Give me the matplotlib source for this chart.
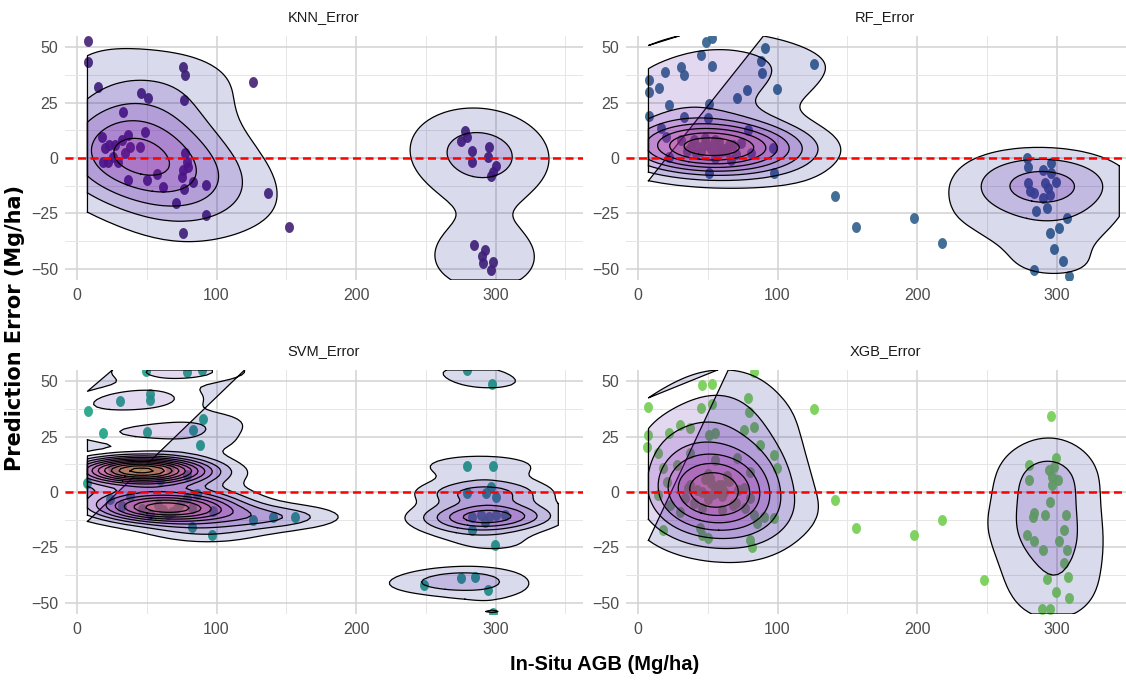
import numpy as np
import matplotlib
matplotlib.use("Agg")
import matplotlib.pyplot as plt
from matplotlib.colors import Normalize
import contourpy

# ---------------------------------------------------------------- data
models = ["KNN_Error", "RF_Error", "SVM_Error", "XGB_Error"]

knn_agb = [8.1, 8.0, 14.8, 45.6, 50.7, 32.7, 75.8, 77.4, 76.7, 126.4,
           17.7, 20.1, 23.2, 18.9, 22.4, 27.2, 32.0, 36.8, 38.0, 34.4, 45.2, 48.8, 29.6, 26.0,
           36.8, 50.0, 57.6, 61.9, 71.0, 76.7, 75.8, 77.5, 78.9, 75.1, 79.3, 82.9, 92.5, 92.5,
           75.8, 136.8, 152.3,
           278.0, 275.3, 279.3, 283.3, 283.3, 295.3, 294.8, 300.6, 297.9, 296.6,
           284.6, 292.6, 290.0, 291.3, 297.9, 296.6]
knn_err = [52.8, 43.4, 32.1, 29.4, 26.9, 20.9, 40.8, 37.4, 26.1, 34.1,
           9.6, 4.4, 5.9, -1.6, -1.6, 5.9, 8.1, 10.4, 5.1, 2.1, 5.1, 11.9, -1.6, 0.6,
           -9.9, -9.9, -7.2, -12.9, -20.4, -14.1, -5.4, 2.1, -1.6, -8.4, -3.9, -10.6, -12.1, -25.6,
           -33.6, -15.9, -30.9,
           12.3, 7.8, 9.3, 3.3, -1.9, 4.8, 0.3, -3.4, -6.4, -8.0,
           -39.2, -41.4, -44.4, -47.4, -46.7, -50.4]

rf_agb = [48.9, 53.0, 45.1, 53.0, 30.9, 32.9, 19.7, 7.7, 7.7, 14.9, 7.7, 22.5, 50.6, 71.0,
          78.2, 88.2, 90.9, 89.0, 99.6, 126.5, 140.9, 156.3,
          16.3, 19.9, 33.1, 49.9, 30.7, 37.9, 49.9, 57.1, 73.9, 78.7, 81.1, 96.7, 51.1, 97.8,
          66.7, 22.5, 41.7, 45.0, 55.0, 60.0, 65.0, 40.0, 55.0, 47.0, 62.0, 35.0, 70.0,
          43.0, 52.0, 58.0, 64.0, 48.0, 56.0, 38.0, 68.0,
          197.8, 217.9, 278.9, 279.4, 290.6, 296.3, 296.3, 279.9, 281.2, 283.8, 291.6, 294.2,
          299.4, 290.3, 295.6, 293.0, 285.2, 307.3, 301.6, 295.6, 298.2, 304.7, 283.8, 308.6]
rf_err = [52.4, 53.9, 46.4, 41.4, 40.8, 37.4, 38.9, 35.1, 29.9, 31.4, 18.9, 23.9, 24.3, 26.9,
          30.6, 43.8, 49.4, 38.1, 30.9, 42.6, -17.1, -30.9,
          13.4, 9.6, 18.6, 17.9, 8.1, 5.1, 5.9, 5.1, 6.6, 12.6, 2.1, 4.4, -6.9, -6.9,
          -0.9, 0.6, 2.1, 3.0, 8.0, 3.0, 6.0, 8.0, 0.0, 6.0, 4.0, 3.0, 2.0,
          5.0, 4.0, 7.0, 3.0, 9.0, 2.0, 5.0, 6.0,
          -27.2, -38.4, 0.1, -3.9, -5.4, -2.4, -6.9, -11.3, -15.0, -15.8, -11.3, -13.6,
          -10.6, -18.0, -16.5, -22.5, -24.0, -26.9, -31.4, -33.6, -41.1, -46.3, -50.7, -53.4]

svm_agb = [8.1, 30.8, 52.3, 52.3, 90.1, 49.7, 78.9, 89.5, 18.9, 50.4, 83.4, 88.2, 6.9,
           23.6, 32.0, 38.0, 46.4, 52.3, 59.5, 73.8, 78.6, 82.2, 82.2, 85.8, 97.8, 96.6,
           126.4, 140.8, 156.4, 42.8, 54.7, 66.7, 78.6,
           35.0, 40.0, 45.0, 48.0, 38.0, 52.0, 30.0, 44.0, 58.0, 25.0,
           62.0, 68.0, 72.0, 58.0, 65.0,
           279.3, 297.4, 279.8, 297.9, 296.6, 293.1, 300.6, 279.3, 283.3, 289.9, 295.3, 300.6,
           306.5, 292.1, 283.3, 299.3, 248.4, 275.1, 285.0, 294.6, 297.9]
svm_err = [36.5, 41.0, 44.4, 41.4, 32.9, 54.5, 54.2, 54.8, 26.4, 27.2, 27.9, 21.2, 3.9,
           -3.3, -6.3, -1.8, -7.8, -10.1, 5.6, -5.5, -2.5, -7.0, -16.0, -1.0, -8.5, -19.3,
           -12.6, -11.1, -11.1, 10.7, 9.9, 10.7, 7.7,
           10.0, 9.0, 11.0, 9.0, 12.0, 11.0, 9.0, 8.0, 10.0, 11.0,
           -8.0, -9.0, -7.0, -6.0, -10.0,
           54.9, 48.6, 11.7, 11.7, 2.4, -0.6, -2.1, -0.6, -11.1, -10.3, -11.1, -10.3,
           -10.3, -13.3, -17.1, -23.9, -41.9, -38.9, -38.1, -44.4, -54.5]

xgb_agb = [7.4, 7.4, 6.7, 45.8, 53.0, 83.5, 78.7, 53.0, 45.1, 79.4, 126.1,
           30.2, 37.4, 50.6, 55.4, 75.8, 83.0, 22.5, 14.6, 37.4, 55.4, 71.0, 87.8, 97.4, 99.8, 80.6,
           18.2, 20.6, 27.8, 14.6, 23.0, 30.2, 33.8, 37.4, 51.8, 60.2, 45.8, 75.8, 80.6, 77.0,
           83.0, 90.2, 97.4, 85.4,
           141.0, 156.1, 18.2, 44.6, 45.8, 49.9, 80.6, 81.8,
           55.0, 50.0, 60.0, 65.0, 40.0, 70.0, 57.0, 52.0,
           42.0, 48.0, 62.0, 68.0, 54.0, 58.0, 46.0, 64.0, 36.0, 72.0, 50.0, 60.0,
           197.9, 217.9, 248.2, 295.8, 299.6, 294.4, 298.4, 297.1, 301.0, 296.5, 280.3, 280.1,
           295.0, 284.1, 291.9, 282.8, 306.7, 305.0, 301.6, 307.6, 278.9, 284.1, 290.1, 305.5,
           308.1, 293.4, 299.4, 309.0, 289.4, 295.4]
xgb_err = [38.4, 25.7, 20.4, 48.2, 48.9, 53.9, 42.5, 39.5, 37.7, 36.2, 37.4,
           30.2, 28.7, 25.7, 26.4, 27.9, 29.4, 26.4, 17.4, 17.4, 14.4, 15.2, 21.2, 16.7, 10.7, 9.2,
           10.7, 4.7, 12.2, -1.3, -5.9, -8.8, -2.8, 3.2, 6.2, 3.2, 0.2, 1.7, -2.8, -7.3,
           -10.4, -11.1, -11.9, -14.1,
           -3.6, -16.4, -17.1, -16.4, -19.4, -20.9, -21.6, -24.6,
           2.0, -3.0, -2.0, 5.0, -5.0, -5.0, 0.0, 4.0,
           1.0, 6.0, 0.0, -6.0, -1.0, 3.0, -7.0, 7.0, 2.0, 1.0, 8.0, -8.0,
           -19.4, -12.6, -39.6, 34.2, 15.2, 9.9, 11.4, 6.9, 5.4, 3.2, 12.2, 5.4,
           -4.3, -9.3, -10.3, -11.1, -10.3, -17.1, -21.9, -26.1, -19.4, -21.9, -26.1, -32.1,
           -38.1, -39.3, -45.3, -47.9, -52.9, -52.9]

agb_values = [knn_agb, rf_agb, svm_agb, xgb_agb]
err_values = [knn_err, rf_err, svm_err, xgb_err]

# ---------------------------------------------------------------- style
point_colors = ["#482576", "#33638D", "#20A386", "#75D054"]
# Gaussian kernel standard deviations (AGB, error) for each panel's density
kernel_sd = [(36.0, 14.0), (40.0, 7.5), (30.0, 4.0), (26.0, 11.0)]
density_cmap = plt.get_cmap("plasma")
fill_alpha = 0.15
grid_x = (7.5, 345.0)
grid_y = (-55.0, 55.0)
x_limits = (-8.6, 362.7)
y_limits = (-55.0, 55.0)

plt.rcParams["font.family"] = ["Liberation Sans", "DejaVu Sans"]


def kde2d(x, y, sd, n=100):
    x = np.asarray(x, float)
    y = np.asarray(y, float)
    gx = np.linspace(*grid_x, n)
    gy = np.linspace(*grid_y, n)
    hx, hy = sd
    kx = np.exp(-0.5 * ((gx[:, None] - x[None, :]) / hx) ** 2) / np.sqrt(2 * np.pi)
    ky = np.exp(-0.5 * ((gy[:, None] - y[None, :]) / hy) ** 2) / np.sqrt(2 * np.pi)
    z = kx @ ky.T / (len(x) * hx * hy)
    return gx, gy, z.T          # rows follow y, columns follow x


def pretty(lo, up, n=10, h=1.5):
    h5 = 0.5 + 1.5 * h
    cell = (up - lo) / n
    base = 10 ** np.floor(np.log10(cell))
    unit = base
    if 2 * base - cell < h * (cell - unit):
        unit = 2 * base
        if 5 * base - cell < h5 * (cell - unit):
            unit = 5 * base
            if 10 * base - cell < h * (cell - unit):
                unit = 10 * base
    ns = np.floor(lo / unit + 1e-7)
    nu = np.ceil(up / unit - 1e-7)
    return np.arange(ns, nu + 1) * unit


densities = [kde2d(a, e, sd) for a, e, sd in zip(agb_values, err_values, kernel_sd)]
z_all = np.concatenate([d[2].ravel() for d in densities])
breaks = pretty(z_all.min(), z_all.max(), 10)
used = [b for b in breaks if 0 < b <= z_all.max()]
fill_norm = Normalize(vmin=used[0], vmax=used[-1])

# ---------------------------------------------------------------- figure
W, H = 1126, 684
fig = plt.figure(figsize=(W / 100, H / 100), dpi=100)

# panel boxes in pixels: left, top, right, bottom
boxes = [(65, 36, 583, 280), (626, 36, 1144, 280),
         (65, 370, 583, 614), (626, 370, 1144, 614)]

ell_t = np.linspace(0, 2 * np.pi, 40)
ellipse_marker = np.column_stack([0.82 * np.cos(ell_t), np.sin(ell_t)])

for i, (name, agb, err, (gx, gy, z)) in enumerate(zip(models, agb_values, err_values, densities)):
    l, t, r, b = boxes[i]
    ax = fig.add_axes([l / W, 1 - b / H, (r - l) / W, (b - t) / H])
    ax.set_xlim(*x_limits)
    ax.set_ylim(*y_limits)
    for s in ax.spines.values():
        s.set_visible(False)
    ax.set_xticks([0, 100, 200, 300])
    ax.set_xticks([50, 150, 250, 350], minor=True)
    ax.set_yticks([-50, -25, 0, 25, 50])
    ax.set_yticks([-37.5, -12.5, 12.5, 37.5], minor=True)
    ax.tick_params(which="both", length=0)
    ax.tick_params(axis="both", labelsize=11.5, labelcolor="#4D4D4D")
    ax.tick_params(axis="x", pad=6)
    ax.tick_params(axis="y", pad=5)
    ax.grid(which="major", color="#D2D2D2", linewidth=1.1)
    ax.grid(which="minor", color="#E6E6E6", linewidth=0.7)
    ax.set_axisbelow(True)

    ax.scatter(agb, err, s=62, marker=ellipse_marker, color=point_colors[i],
               alpha=0.92, linewidths=0, zorder=2)

    gen = contourpy.contour_generator(gx, gy, z, line_type="Separate")
    for lev in used:
        col = density_cmap(fill_norm(lev))
        for v in gen.lines(lev):
            if len(v) < 3:
                continue
            ax.fill(v[:, 0], v[:, 1], facecolor=col, alpha=fill_alpha,
                    edgecolor="none", zorder=3)
            closed = np.vstack([v, v[:1]])
            ax.plot(closed[:, 0], closed[:, 1], color="black", linewidth=0.9, zorder=3)

    ax.axhline(0, color="#FF0000", linewidth=1.8, linestyle=(0, (3.2, 1.8)), zorder=5)

    ax.text(0.5, 1 + 19 / (b - t), name, transform=ax.transAxes, ha="center",
            va="center", fontsize=10.5, color="#1A1A1A")

fig.text(15 / W, 1 - 328 / H, "Prediction Error (Mg/ha)", rotation=90, ha="center",
         va="center", fontsize=15, fontweight="bold", family=["DejaVu Sans"])
fig.text(605 / W, 1 - 665 / H, "In-Situ AGB (Mg/ha)", ha="center", va="center",
         fontsize=14.5, fontweight="bold")

fig.savefig("out.png", dpi=100)
